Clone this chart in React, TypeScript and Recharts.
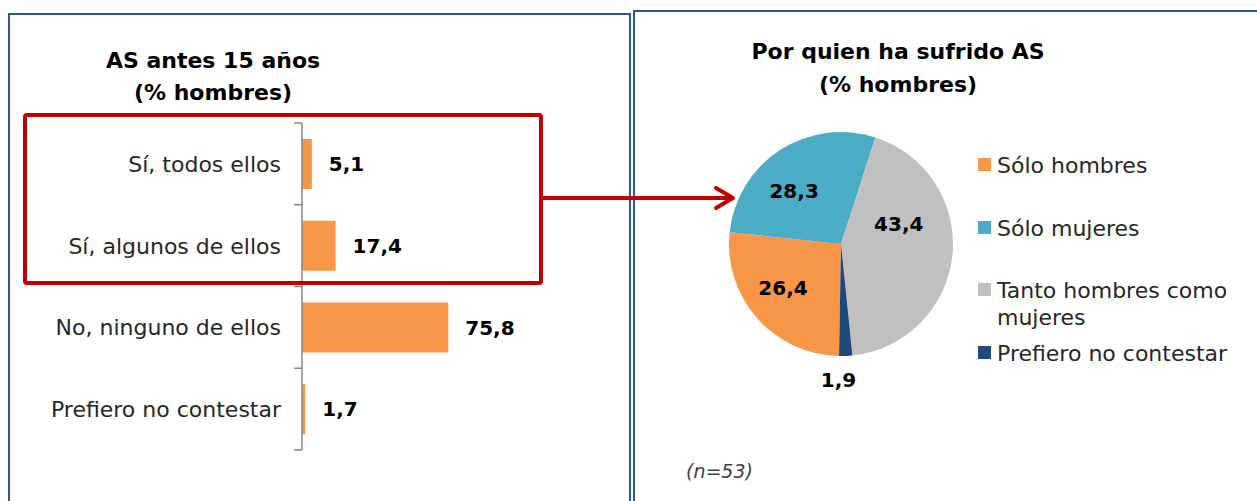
import React from 'react';
import { BarChart, Bar, XAxis, YAxis, LabelList, PieChart, Pie, Cell, Legend } from 'recharts';

// ---- Data: left bar chart ----
const barCategories = ['Sí, todos ellos', 'Sí, algunos de ellos', 'No, ninguno de ellos', 'Prefiero no contestar'];
const barValues = [5.1, 17.4, 75.8, 1.7];

// ---- Data: right pie chart ----
const pieCategories = ['Sólo hombres', 'Sólo mujeres', 'Tanto hombres como mujeres', 'Prefiero no contestar'];
const pieValues = [26.4, 28.3, 43.4, 1.9];

// ---- Styles ----
const FONT = '"DejaVu Sans", "Noto Sans", sans-serif';
const BAR_COLOR = '#F79646';
const PIE_COLORS = ['#F79646', '#4BACC6', '#C0C0C0', '#1F497D'];
const AXIS_COLOR = '#868686';
const TEXT_COLOR = '#262626';
const TICK_SIZE = 8;
const TICK_MARGIN = 13;
// label placement per slice (angle shift in degrees, radius as fraction of outer radius)
const PIE_LABEL_PLACEMENT = [
  { shift: -4.3, radius: 0.65 },
  { shift: 8.6, radius: 0.63 },
  { shift: 25, radius: 0.545 },
  { shift: -3.5, radius: 1.21 },
];

const barData = barCategories.map((name, i) => ({ name, value: barValues[i] }));
const pieData = pieCategories.map((name, i) => ({ name, value: pieValues[i] }));

const fmt = (v: any) => Number(v).toFixed(1).replace('.', ',');
const RAD = Math.PI / 180;

const CategoryTick = (props: any) => {
  const { x, y, payload, index } = props;
  const half = payload && payload.offset ? payload.offset : 0;
  const axisX = x + TICK_SIZE + TICK_MARGIN;
  const isLast = index === barCategories.length - 1;
  return (
    <g>
      <line x1={axisX - TICK_SIZE} x2={axisX} y1={y - half} y2={y - half} stroke={AXIS_COLOR} strokeWidth={1.5} />
      {isLast && (
        <line x1={axisX - TICK_SIZE} x2={axisX} y1={y + half} y2={y + half} stroke={AXIS_COLOR} strokeWidth={1.5} />
      )}
      <text x={x} y={y} dy="0.36em" textAnchor="end" fontFamily={FONT} fontSize={22} fill={TEXT_COLOR}>
        {payload.value}
      </text>
    </g>
  );
};

const renderPieLabel = (props: any) => {
  const { cx, cy, midAngle, outerRadius, value, index } = props;
  const p = PIE_LABEL_PLACEMENT[index] || { shift: 0, radius: 0.65 };
  const a = (midAngle + p.shift) * RAD;
  const r = outerRadius * p.radius;
  const x = cx + r * Math.cos(a);
  const y = cy - r * Math.sin(a);
  return (
    <text x={x} y={y} dy="0.36em" textAnchor="middle" fontFamily={FONT} fontSize={20} fontWeight="bold" fill="#000">
      {fmt(value)}
    </text>
  );
};

const PieLegend = (props: any) => {
  const items = [...(props.payload || [])].sort(
    (a: any, b: any) => pieCategories.indexOf(a.value) - pieCategories.indexOf(b.value)
  );
  return (
    <div style={{ fontFamily: FONT }}>
      {items.map((entry: any, i: number) => (
        <div key={i} style={{ position: 'relative', height: 62.5, paddingLeft: 19 }}>
          <span
            style={{
              position: 'absolute',
              left: 0,
              top: 6,
              width: 13,
              height: 13,
              background: entry.color,
            }}
          />
          <div style={{ fontSize: 22, lineHeight: '27px', color: TEXT_COLOR, whiteSpace: 'normal' }}>{entry.value}</div>
        </div>
      ))}
    </div>
  );
};

export default function App() {
  return (
    <div
      style={{
        position: 'absolute',
        left: 0,
        top: 0,
        width: 1257,
        height: 501,
        overflow: 'hidden',
        background: '#fff',
        fontFamily: FONT,
      }}
    >
      <div style={{ position: 'absolute', left: 0, top: 0 }}>
        <BarChart
          width={630}
          height={501}
          data={barData}
          layout="vertical"
          margin={{ top: 123, bottom: 51, left: 0, right: 135 }}
        >
          <XAxis type="number" domain={[0, 100]} hide />
          <YAxis
            type="category"
            dataKey="name"
            width={302}
            axisLine={{ stroke: AXIS_COLOR, strokeWidth: 1.5 }}
            tickLine={false}
            tickSize={TICK_SIZE}
            tickMargin={TICK_MARGIN}
            tick={<CategoryTick />}
            interval={0}
          />
          <Bar dataKey="value" fill={BAR_COLOR} barSize={50} isAnimationActive={false}>
            <LabelList
              dataKey="value"
              position="right"
              offset={17}
              formatter={fmt}
              style={{ fontFamily: FONT, fontSize: 20, fontWeight: 'bold', fill: '#000' }}
            />
          </Bar>
        </BarChart>
      </div>

      <div style={{ position: 'absolute', left: 634, top: 0 }}>
        <PieChart width={623} height={501} margin={{ top: 0, left: 0, right: 0, bottom: 0 }}>
          <Pie
            data={pieData}
            dataKey="value"
            nameKey="name"
            cx={207}
            cy={244}
            outerRadius={112}
            startAngle={-91}
            endAngle={-451}
            stroke="none"
            labelLine={false}
            label={renderPieLabel}
            isAnimationActive={false}
          >
            {pieData.map((d, i) => (
              <Cell key={d.name} fill={PIE_COLORS[i]} />
            ))}
          </Pie>
          <Legend
            layout="vertical"
            align="right"
            verticalAlign="middle"
            itemSorter={null as any}
            content={<PieLegend />}
            wrapperStyle={{ left: 344, top: 152, width: 280, right: 'auto', bottom: 'auto' }}
          />
        </PieChart>
      </div>

      <svg
        width={1257}
        height={501}
        style={{ position: 'absolute', left: 0, top: 0, pointerEvents: 'none' }}
      >
        {/* panel borders */}
        <rect x={9} y={14} width={621} height={520} fill="none" stroke="#2F5597" strokeWidth={2} />
        <rect x={634} y={11} width={640} height={520} fill="none" stroke="#2F5597" strokeWidth={2} />

        {/* titles */}
        <text x={213} y={68} textAnchor="middle" fontFamily={FONT} fontSize={22} fontWeight="bold" fill="#000">
          AS antes 15 años
        </text>
        <text x={213} y={100} textAnchor="middle" fontFamily={FONT} fontSize={22} fontWeight="bold" fill="#000">
          (% hombres)
        </text>
        <text x={898} y={59} textAnchor="middle" fontFamily={FONT} fontSize={22} fontWeight="bold" fill="#000">
          Por quien ha sufrido AS
        </text>
        <text x={898} y={92} textAnchor="middle" fontFamily={FONT} fontSize={22} fontWeight="bold" fill="#000">
          (% hombres)
        </text>

        {/* annotation */}
        <rect x={25} y={115} width={516} height={168} rx={2} fill="none" stroke="#C00000" strokeWidth={4} />
        <line x1={541} y1={198} x2={732} y2={198} stroke="#C00000" strokeWidth={4} />
        <polyline
          points="716,188 733,198 716,208"
          fill="none"
          stroke="#C00000"
          strokeWidth={4}
          strokeLinecap="round"
          strokeLinejoin="round"
        />

        <text x={686} y={478} fontFamily={FONT} fontSize={19} fontStyle="italic" fill="#404040">
          (n=53)
        </text>
      </svg>
    </div>
  );
}
